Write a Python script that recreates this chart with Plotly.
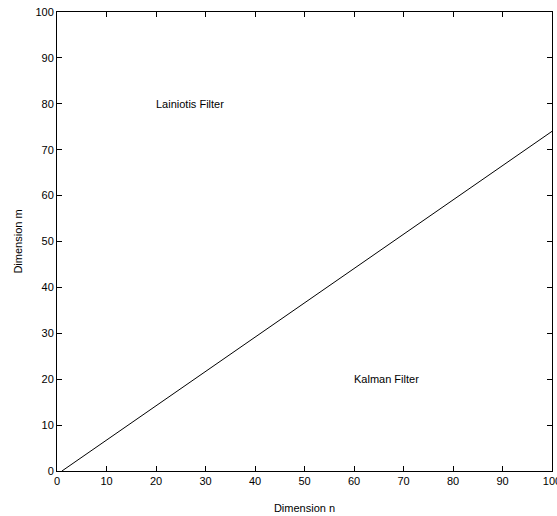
import plotly.graph_objects as go

# Boundary line data
dim_n = [1, 100]
dim_m = [0, 74]

# Region labels
region_labels = ["Lainiotis Filter", "Kalman Filter"]
region_n = [20, 60]
region_m = [80, 20]

tick_vals = list(range(0, 101, 10))

FONT = dict(family="Liberation Sans, Arial", size=11, color="black")

fig = go.Figure()
fig.add_trace(go.Scatter(x=dim_n, y=dim_m, mode="lines",
                         line=dict(color="black", width=1), showlegend=False,
                         hoverinfo="skip"))

for lbl, xn, ym in zip(region_labels, region_n, region_m):
    fig.add_annotation(x=xn, y=ym, text=lbl, showarrow=False,
                       xanchor="left", yanchor="middle", xshift=-2,
                       font=FONT)

axis_common = dict(range=[0, 100], tickvals=tick_vals, ticks="inside", ticklen=5,
                   tickcolor="black", showline=True, linecolor="black", linewidth=1,
                   mirror="ticks", showgrid=False, zeroline=False,
                   ticklabeloverflow="allow", tickfont=FONT, automargin=False)

fig.update_xaxes(**axis_common, title=dict(text="Dimension n", standoff=18, font=FONT))
fig.update_yaxes(**axis_common, title=dict(text="Dimension m", standoff=10, font=FONT))

fig.update_layout(width=557, height=516, margin=dict(l=57, r=5, t=12, b=45),
                  plot_bgcolor="white", paper_bgcolor="white")

fig.write_html("out.html")
